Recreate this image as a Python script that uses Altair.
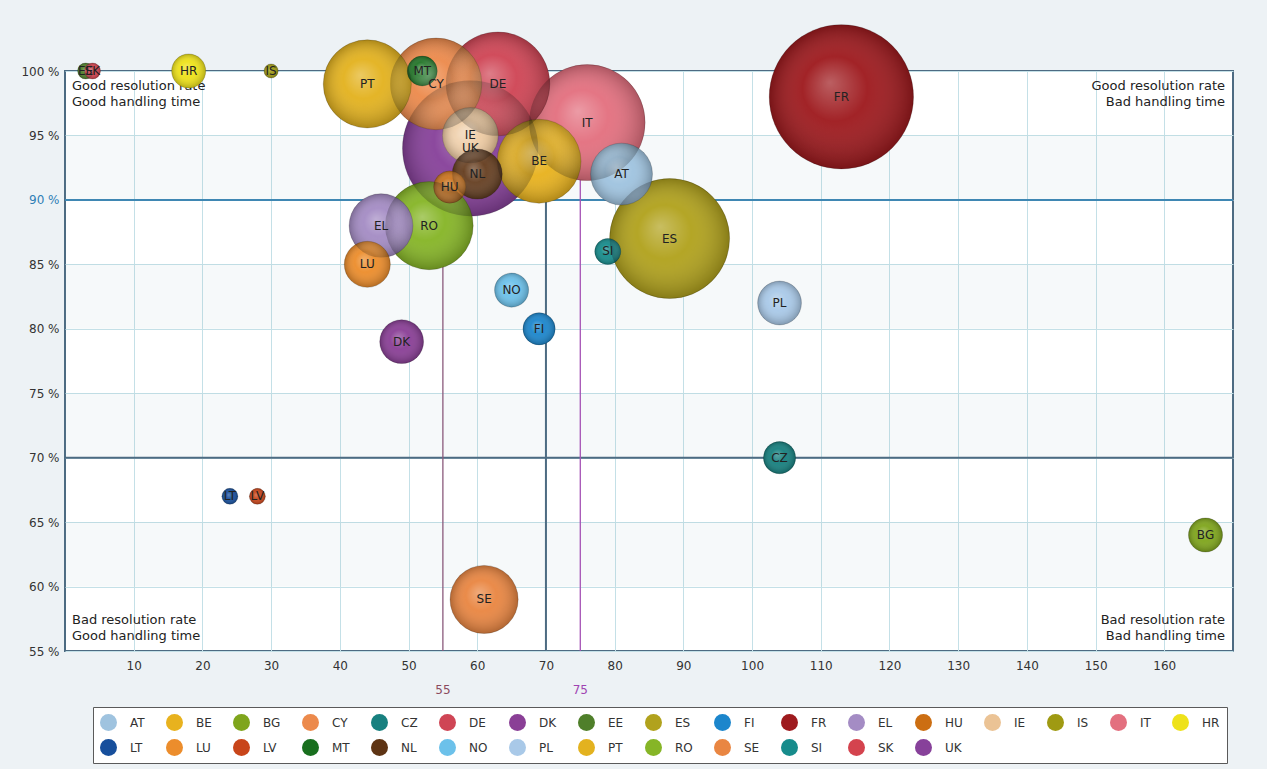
import altair as alt
import pandas as pd

# Countries in legend order
codes = ["AT", "BE", "BG", "CY", "CZ", "DE", "DK", "EE", "ES", "FI", "FR", "EL",
         "HU", "IE", "IS", "IT", "HR", "LT", "LU", "LV", "MT", "NL", "NO", "PL",
         "PT", "RO", "SE", "SI", "SK", "UK"]
# Average handling time (days)
handling = [81, 69, 166, 54, 104, 63, 49, 3, 88, 69, 113, 46,
            56, 59, 30, 76, 18, 24, 44, 28, 52, 60, 65, 104,
            44, 53, 61, 79, 4, 59]
# Resolution rate (%)
resolution = [92, 93, 64, 99, 70, 99, 79, 100, 87, 80, 98, 88,
              91, 95, 100, 96, 100, 67, 85, 67, 100, 92, 83, 82,
              99, 88, 59, 86, 100, 94]
# Number of cases (bubble area)
cases = [960, 1760, 290, 2100, 260, 2700, 480, 64, 3600, 260, 5200, 1020,
         260, 780, 50, 3360, 290, 64, 530, 64, 225, 625, 290, 480,
         1940, 1940, 1160, 170, 64, 4600]
colors = ["#9fc3df", "#e8b21e", "#7fa51c", "#ec8a4c", "#17807f", "#cf4555",
          "#8a3f96", "#4f7f2a", "#b1a21d", "#1c86cc", "#9e1a1e", "#a48cc4",
          "#cc6e12", "#ebc395", "#9f9a12", "#e3707f", "#eee21a", "#174f9c",
          "#ec8d2c", "#c8451a", "#186f1e", "#5e3414", "#6cc1ea", "#a9c9e8",
          "#e3b21f", "#86b527", "#e98642", "#178c8c", "#d4434e", "#87419a"]

x_ticks = list(range(10, 170, 10))
y_ticks = list(range(55, 101, 5))
band_starts = [60, 70, 80, 90]

W, H = 1168, 580
SLATE = "#4d6b82"
FONT = "DejaVu Sans"

df = pd.DataFrame({"code": codes, "days": handling, "rate": resolution, "cases": cases})
# big bubbles first so that small ones stay visible on top
df = df.sort_values("cases", ascending=False).reset_index(drop=True)

xs = alt.Scale(domain=[0, 170], nice=False, zero=False)
ys = alt.Scale(domain=[55, 100], nice=False, zero=False)

x_axis = alt.Axis(values=x_ticks, grid=True, gridColor="#c4e0e7", gridWidth=1,
                  domain=False, ticks=False, labelPadding=9, labelFontSize=12,
                  labelColor="#333333", labelFont=FONT, title=None)
y_axis = alt.Axis(values=y_ticks, grid=True, gridColor="#c4e0e7", gridWidth=1,
                  domain=False, ticks=False, labelPadding=6, labelFontSize=12,
                  labelFont=FONT, title=None,
                  labelExpr="datum.value + ' %'",
                  labelColor={"condition": {"test": "datum.value === 90", "value": "#2f7fb5"},
                              "value": "#333333"})

# alternating light bands
bands = alt.Chart(pd.DataFrame({"lo": band_starts, "hi": [b + 5 for b in band_starts]})).mark_rect(
    color="#7fa5bf", opacity=0.07
).encode(
    x=alt.value(0), x2=alt.value(W),
    y=alt.Y("lo:Q", scale=ys, axis=y_axis), y2="hi:Q",
)

grid_x = alt.Chart(pd.DataFrame({"v": x_ticks})).mark_rule(opacity=0).encode(
    x=alt.X("v:Q", scale=xs, axis=x_axis)
)

hlines = alt.Chart(pd.DataFrame({"v": [90, 70], "c": ["#3f87b3", SLATE]})).mark_rule(strokeWidth=2).encode(
    y=alt.Y("v:Q", scale=ys), color=alt.Color("c:N", scale=None)
)
vlines = alt.Chart(pd.DataFrame({"v": [70, 55, 75], "c": [SLATE, "#8a5a7c", "#a552b5"],
                                 "w": [2, 1.3, 1.3]})).mark_rule().encode(
    x=alt.X("v:Q", scale=xs), color=alt.Color("c:N", scale=None),
    strokeWidth=alt.StrokeWidth("w:Q", scale=None)
)
vlabels = alt.Chart(pd.DataFrame({"v": [55, 75], "t": ["55", "75"], "c": ["#8b4a5e", "#a043b2"]})).mark_text(
    fontSize=12, font=FONT
).encode(
    x=alt.X("v:Q", scale=xs), y=alt.value(H + 39), text="t:N", color=alt.Color("c:N", scale=None)
)

size_scale = alt.Scale(domain=[0, 5200], range=[0, 20800])

bubbles = alt.Chart(df).mark_circle(opacity=1, stroke="#000000", strokeOpacity=0.18, strokeWidth=1).encode(
    x=alt.X("days:Q", scale=xs),
    y=alt.Y("rate:Q", scale=ys),
    size=alt.Size("cases:Q", scale=size_scale, legend=None),
    color=alt.Color("code:N", scale=alt.Scale(domain=codes, range=colors),
                    legend=alt.Legend(title=None, orient="none", legendX=28, legendY=636,
                                      direction="horizontal", columns=17, symbolType="circle",
                                      symbolSize=289, symbolStrokeWidth=0, fillColor="#ffffff",
                                      strokeColor="#5a5a5a", padding=7, labelFontSize=12,
                                      labelFont=FONT, labelColor="#333333", labelOffset=13,
                                      columnPadding=21, rowPadding=8)),
)

shade = alt.Chart(df).mark_circle(
    opacity=1,
    fill=alt.RadialGradient(
        gradient="radial",
        stops=[alt.GradientStop(offset=0, color="rgba(255,255,255,0.3)"),
               alt.GradientStop(offset=0.45, color="rgba(255,255,255,0.04)"),
               alt.GradientStop(offset=1, color="rgba(0,0,0,0.24)")],
        x1=0.42, y1=0.4, r1=0, x2=0.5, y2=0.5, r2=0.5,
    ),
).encode(
    x=alt.X("days:Q", scale=xs),
    y=alt.Y("rate:Q", scale=ys),
    size=alt.Size("cases:Q", scale=size_scale, legend=None),
)

labels = alt.Chart(df).mark_text(fontSize=12, font=FONT, color="#222222").encode(
    x=alt.X("days:Q", scale=xs), y=alt.Y("rate:Q", scale=ys), text="code:N"
)

corners = pd.DataFrame({
    "t": ["Good resolution rate\nGood handling time", "Good resolution rate\nBad handling time",
          "Bad resolution rate\nGood handling time", "Bad resolution rate\nBad handling time"],
    "px": [7, W - 8, 7, W - 8],
    "py": [9, 9, H - 37, H - 37],
    "al": ["left", "right", "left", "right"],
})
corner_l = alt.Chart(corners[corners.al == "left"]).mark_text(
    align="left", baseline="top", lineBreak="\n", lineHeight=16, fontSize=13, font=FONT, color="#222222"
).encode(x=alt.X("px:Q", scale=None), y=alt.Y("py:Q", scale=None), text="t:N")
corner_r = alt.Chart(corners[corners.al == "right"]).mark_text(
    align="right", baseline="top", lineBreak="\n", lineHeight=16, fontSize=13, font=FONT, color="#222222"
).encode(x=alt.X("px:Q", scale=None), y=alt.Y("py:Q", scale=None), text="t:N")

chart = alt.layer(
    bands, grid_x, hlines, vlines, vlabels, corner_l, corner_r, bubbles, shade, labels
).properties(
    width=W, height=H,
    autosize=alt.AutoSizeParams(type="none"),
    padding={"left": 65, "top": 71, "right": 34, "bottom": 118},
    background="#edf2f5",
).configure_view(
    fill="#ffffff", stroke=SLATE, strokeWidth=2
)

chart.save("out.html", embed_options={"renderer": "svg", "actions": False})
